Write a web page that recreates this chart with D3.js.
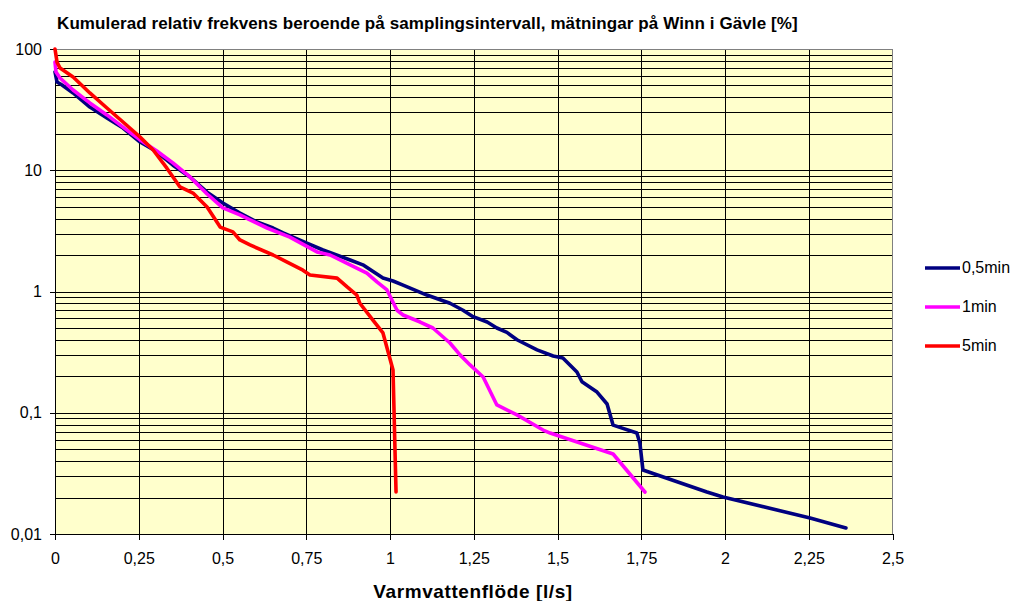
<html>
<head>
<script src="https://d3js.org/d3.v7.min.js"></script>
<style>
    body { margin: 0; background: #fff; }
    svg { font-family: Arial, "Liberation Sans", sans-serif; }
    .grid line { stroke: #000; stroke-width: 1; shape-rendering: crispEdges; }
    .axis text { font-size: 16px; fill: #000; }
    .axis path, .axis line { stroke: #000; shape-rendering: crispEdges; }
    .series { fill: none; stroke-width: 3.6; stroke-linejoin: round; stroke-linecap: round; }
</style>
</head>
<body>
<svg id="chart" width="1015" height="601"></svg>
<script>

    // 0,5 min sampling
    let x05 = [0, 0.006, 0.021, 0.054, 0.104, 0.155, 0.203, 0.254, 0.304, 0.352, 0.403, 0.454, 0.501, 0.552, 0.603, 0.651, 0.681, 0.752, 0.800, 0.881, 0.919, 0.979, 1.009, 1.039, 1.110, 1.179, 1.218, 1.248, 1.290, 1.319, 1.349, 1.379, 1.439, 1.487, 1.516, 1.558, 1.573, 1.618, 1.648, 1.666, 1.737, 1.746, 1.755, 1.946, 1.994, 2.254, 2.361];
    let y05 = [64.6, 53.5, 50.5, 43.4, 33.2, 27.0, 22.3, 17.1, 14.2, 11.0, 8.8, 6.6, 5.37, 4.44, 3.74, 3.34, 3.04, 2.51, 2.20, 1.82, 1.66, 1.29, 1.22, 1.13, 0.935, 0.80, 0.70, 0.62, 0.56, 0.50, 0.46, 0.40, 0.33, 0.294, 0.283, 0.217, 0.180, 0.148, 0.118, 0.079, 0.068, 0.056, 0.0337, 0.0222, 0.0202, 0.01355, 0.0112];

    // 1 min sampling
    let x1 = [0, 0.003, 0.015, 0.054, 0.104, 0.155, 0.203, 0.254, 0.304, 0.352, 0.403, 0.454, 0.501, 0.552, 0.582, 0.633, 0.701, 0.782, 0.821, 0.881, 0.931, 0.961, 0.991, 1.021, 1.039, 1.090, 1.128, 1.179, 1.209, 1.239, 1.278, 1.319, 1.379, 1.457, 1.478, 1.666, 1.761];
    let y1 = [78, 64.6, 57.7, 45.9, 35.9, 28.6, 22.7, 17.8, 14.4, 11.5, 8.8, 6.37, 4.89, 4.28, 3.89, 3.34, 2.81, 2.12, 2.00, 1.66, 1.42, 1.20, 1.03, 0.70, 0.64, 0.56, 0.50, 0.376, 0.30, 0.248, 0.197, 0.116, 0.096, 0.072, 0.068, 0.0457, 0.0222];

    // 5 min sampling
    let x5 = [0, 0.006, 0.015, 0.054, 0.104, 0.155, 0.203, 0.254, 0.293, 0.334, 0.373, 0.412, 0.454, 0.493, 0.531, 0.552, 0.582, 0.651, 0.693, 0.740, 0.761, 0.842, 0.872, 0.901, 0.910, 0.949, 0.979, 1.009, 1.018];
    let y5 = [100, 78, 69.7, 58.8, 43.4, 32.6, 25.0, 18.8, 14.7, 10.4, 7.28, 6.49, 4.98, 3.40, 3.10, 2.66, 2.42, 2.00, 1.75, 1.50, 1.37, 1.29, 1.09, 0.935, 0.80, 0.58, 0.455, 0.225, 0.0222];

    let seriesNames = ['0,5min', '1min', '5min'];
    let seriesColors = ['#000080', '#FF00FF', '#FF0000'];

    let xTicks = [0, 0.25, 0.5, 0.75, 1, 1.25, 1.5, 1.75, 2, 2.25, 2.5];
    let yTicks = [100, 10, 1, 0.1, 0.01];

    let title = 'Kumulerad relativ frekvens beroende på samplingsintervall, mätningar på Winn i Gävle [%]';
    let xTitle = 'Varmvattenflöde [l/s]';

    let svg = d3.select('#chart');
    let plot = {left: 55, right: 892.5, top: 49, bottom: 534};

    let sv = d3.formatLocale({decimal: ',', thousands: ' ', grouping: [3], currency: ['', ' kr']});
    let fmt = v => sv.format('~g')(v);

    let x = d3.scaleLinear().domain([0, 2.5]).range([plot.left, plot.right]);
    let y = d3.scaleLog().domain([0.01, 100]).range([plot.bottom, plot.top]);

    // plot background
    svg.append('rect')
        .attr('x', plot.left).attr('y', plot.top)
        .attr('width', plot.right - plot.left).attr('height', plot.bottom - plot.top)
        .attr('fill', '#FFFFCC');

    // grid
    let minor = [];
    [0.01, 0.1, 1, 10].forEach(d => { for (let k = 1; k <= 9; k++) minor.push(d * k); });
    minor = minor.filter(v => v > 0.01);

    let grid = svg.append('g').attr('class', 'grid');
    grid.selectAll('.hg')
        .data(minor)
      .enter().append('line')
        .attr('x1', plot.left).attr('x2', plot.right)
        .attr('y1', d => Math.round(y(d)) + 0.5).attr('y2', d => Math.round(y(d)) + 0.5);
    grid.selectAll('.vg')
        .data(xTicks.slice(1, -1))
      .enter().append('line')
        .attr('y1', plot.top).attr('y2', plot.bottom)
        .attr('x1', d => Math.round(x(d)) + 0.5).attr('x2', d => Math.round(x(d)) + 0.5);

    // border
    svg.append('rect')
        .attr('x', plot.left).attr('y', plot.top)
        .attr('width', plot.right - plot.left).attr('height', plot.bottom - plot.top)
        .attr('fill', 'none').attr('stroke', '#808080').attr('shape-rendering', 'crispEdges');

    // axes
    svg.append('g')
        .attr('class', 'axis')
        .attr('transform', 'translate(0,' + plot.bottom + ')')
        .call(d3.axisBottom(x).tickValues(xTicks).tickFormat(fmt).tickSize(6).tickSizeOuter(0).tickPadding(13));

    svg.append('g')
        .attr('class', 'axis')
        .attr('transform', 'translate(' + plot.left + ',0)')
        .call(d3.axisLeft(y).tickValues(yTicks).tickFormat(fmt).tickSize(5).tickSizeOuter(0).tickPadding(8));

    // series
    let series = [d3.zip(x05, y05), d3.zip(x1, y1), d3.zip(x5, y5)];
    let line = d3.line().x(d => x(d[0])).y(d => y(d[1]));

    svg.selectAll('.series')
        .data(series)
      .enter().append('path')
        .attr('class', 'series')
        .attr('stroke', (d, i) => seriesColors[i])
        .attr('d', line);

    // legend
    let legend = svg.selectAll('.legend')
        .data(seriesNames)
      .enter().append('g')
        .attr('class', 'legend')
        .attr('transform', (d, i) => 'translate(925,' + (268 + i * 39) + ')');
    legend.append('line')
        .attr('x1', 0).attr('x2', 35)
        .attr('stroke', (d, i) => seriesColors[i])
        .attr('stroke-width', 3.3);
    legend.append('text')
        .attr('x', 37).attr('y', 1)
        .attr('dominant-baseline', 'middle')
        .style('font-size', '16px')
        .text(d => d);

    // titles
    svg.append('text')
        .attr('x', 57).attr('y', 29)
        .style('font-size', '17px').style('font-weight', 'bold')
        .style('letter-spacing', '0.1px')
        .text(title);

    svg.append('text')
        .attr('x', 473).attr('y', 598)
        .attr('text-anchor', 'middle')
        .style('font-size', '19px').style('font-weight', 'bold')
        .style('letter-spacing', '0.6px')
        .text(xTitle);

</script>
</body>
</html>
